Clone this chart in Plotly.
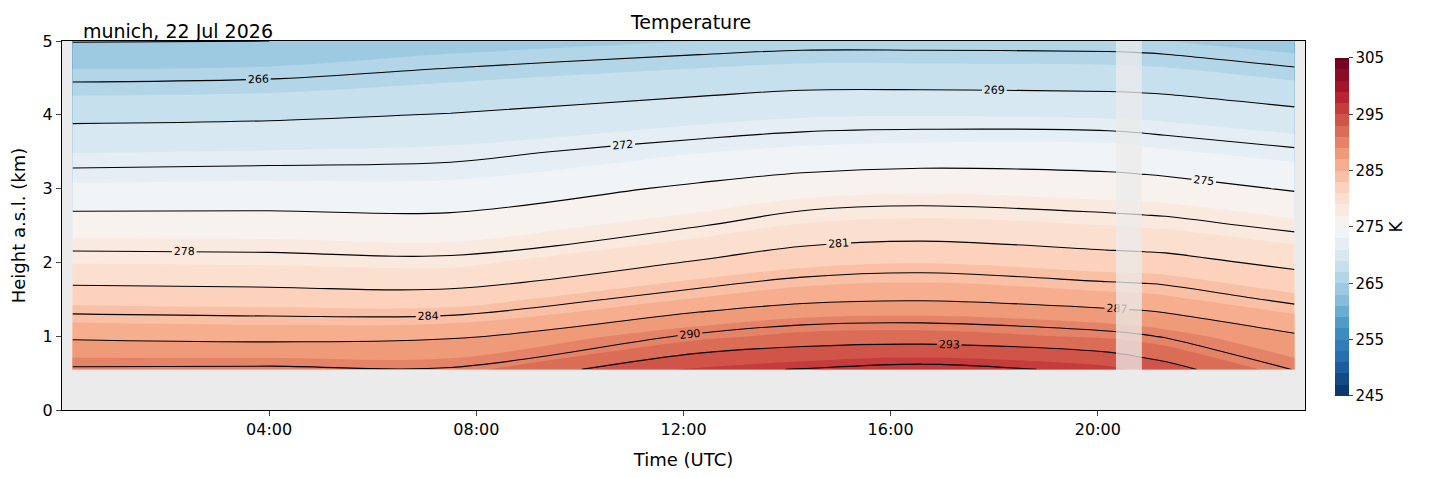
import plotly.graph_objects as go

times = [0.2, 4.0, 7.5, 12.3, 14.3, 16.6, 20.2, 20.9, 21.3, 23.8]
heights = [0.55, 1.0, 1.5, 2.0, 2.5, 3.0, 3.5, 4.0, 4.5, 5.0]
# temperature (K) per height row, columns follow `times`
temp = [
    [290.3, 290.4, 290.2, 295.5, 296.1, 296.8, 295.5, 294.5, 294.0, 289.9],
    [286.6, 286.3, 286.6, 290.4, 291.6, 291.8, 290.7, 290.2, 289.8, 287.3],
    [282.3, 282.1, 282.0, 285.2, 286.4, 286.8, 285.8, 285.6, 285.4, 283.5],
    [278.9, 278.75, 278.5, 281.2, 282.4, 282.9, 282.0, 281.9, 281.8, 280.4],
    [276.0, 276.0, 275.8, 277.9, 279.2, 279.6, 279.0, 278.8, 278.7, 277.5],
    [273.4, 273.5, 273.5, 275.4, 276.2, 276.6, 276.1, 276.0, 275.9, 274.8],
    [270.9, 271.1, 271.4, 272.9, 273.4, 273.7, 273.7, 273.4, 273.2, 272.3],
    [268.4, 268.6, 269.1, 270.3, 270.8, 270.9, 270.7, 270.6, 270.5, 269.6],
    [265.7, 265.9, 266.7, 267.7, 268.1, 268.1, 268.0, 267.9, 267.8, 266.8],
    [262.9, 263.0, 264.1, 265.0, 265.3, 265.3, 265.2, 265.1, 265.0, 264.1],
]
tick_vals = [4, 8, 12, 16, 20]
tick_text = ["04:00", "08:00", "12:00", "16:00", "20:00"]
cbar_ticks = [245, 255, 265, 275, 285, 295, 305]
gap = [20.35, 20.85]

rdbu_r = ["#053061", "#2166ac", "#4393c3", "#92c5de", "#d1e5f0", "#f7f7f7",
          "#fddbc7", "#f4a582", "#d6604d", "#b2182b", "#67001f"]
cs = [[i / 10, c] for i, c in enumerate(rdbu_r)]

F = "DejaVu Sans"
fig = go.Figure()
fig.add_trace(go.Contour(
    x=times, y=heights, z=temp, colorscale=cs, zmin=245, zmax=305,
    contours=dict(start=245, end=305, size=2, coloring="fill", showlines=False),
    line=dict(width=0),
    colorbar=dict(tickvals=cbar_ticks, x=1.016, xanchor="left", y=0.496, len=0.97,
                  thickness=14, outlinewidth=0, ticks="outside", ticklen=4,
                  tickfont=dict(size=15, family=F),
                  title=dict(text="K", side="right", font=dict(size=17, family=F))),
))
fig.add_trace(go.Contour(
    x=times, y=heights, z=temp, showscale=False,
    colorscale=[[0, "black"], [1, "black"]],
    contours=dict(start=263, end=296, size=3, coloring="lines", showlabels=True,
                  labelfont=dict(size=11, color="black", family=F)),
    line=dict(width=1.1, color="black"), hoverinfo="skip",
))
fig.add_shape(type="rect", x0=gap[0], x1=gap[1], y0=0.53, y1=5,
              fillcolor="rgba(235,235,235,0.75)", line_width=0, layer="above")

fig.update_layout(
    width=1429, height=478, margin=dict(l=54, r=132, t=33, b=76, autoexpand=False),
    paper_bgcolor="white", plot_bgcolor="#ebebeb",
    font=dict(family=F, size=16, color="black"),
    title=dict(text="Temperature", x=0.478, xanchor="center", y=0.97, yanchor="middle",
               font=dict(size=19), automargin=False),
    annotations=[dict(text="munich, 22 Jul 2026", xref="paper", yref="paper", x=0.015, y=1.0,
                      xanchor="left", yanchor="bottom", yshift=-3, showarrow=False,
                      font=dict(size=19))],
    showlegend=False,
)
fig.update_xaxes(range=[0, 24], tickvals=tick_vals, ticktext=tick_text, ticks="outside",
                 showgrid=False, zeroline=False, showline=True, linecolor="black", mirror=True,
                 automargin=False, title=dict(text="Time (UTC)", font=dict(size=18)))
fig.update_yaxes(range=[0, 5], dtick=1, ticks="outside", showgrid=False, zeroline=False,
                 showline=True, linecolor="black", mirror=True, automargin=False,
                 title=dict(text="Height a.s.l. (km)", font=dict(size=18), standoff=12))
fig.write_html("out.html")
